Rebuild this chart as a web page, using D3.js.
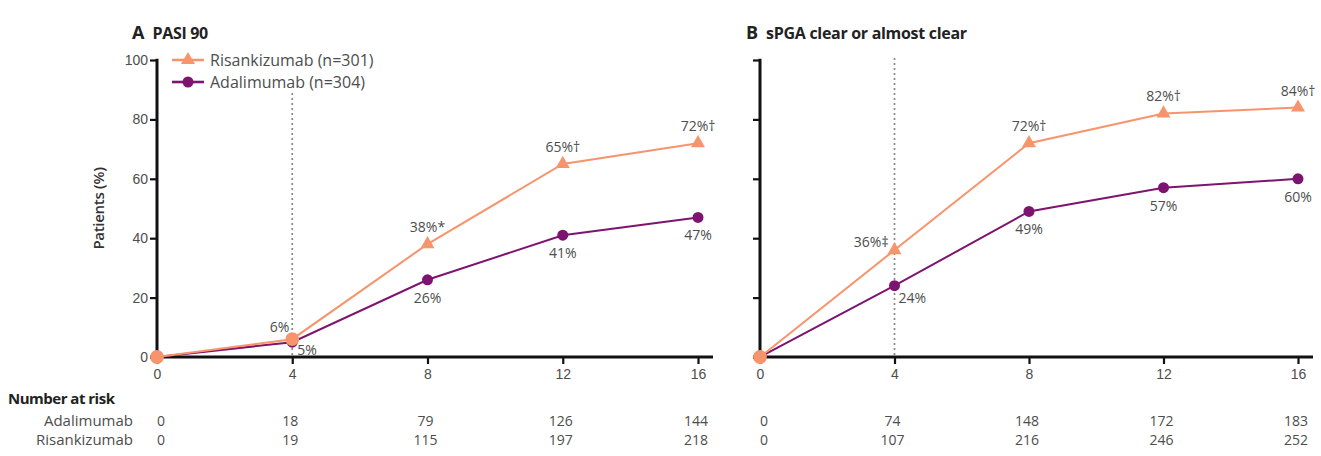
<!DOCTYPE html>
<html>
<head>
<meta charset="utf-8">
<script src="https://cdn.jsdelivr.net/npm/d3@7"></script>
<style>
  html, body { margin: 0; padding: 0; background: #fff; }
  svg { display: block; font-family: "Open Sans", "Noto Sans", sans-serif; }
</style>
</head>
<body>
<svg id="chart" width="1321" height="456"></svg>
<script>
// Study weeks shown on the x axis
const weeks = [0, 4, 8, 12, 16];
const yTicks = [0, 20, 40, 60, 80, 100];

// Panel A: PASI 90 response (%)
const pasiRisankizumab = [0, 6, 38, 65, 72];
const pasiAdalimumab   = [0, 5, 26, 41, 47];
const pasiRisSuffix    = ["", "", "*", "†", "†"];

// Panel B: sPGA clear or almost clear (%)
const spgaRisankizumab = [0, 36, 72, 82, 84];
const spgaAdalimumab   = [0, 24, 49, 57, 60];
const spgaRisSuffix    = ["", "‡", "†", "†", "†"];

// Number at risk
const riskAdaA = [0, 18, 79, 126, 144];
const riskRisA = [0, 19, 115, 197, 218];
const riskAdaB = [0, 74, 148, 172, 183];
const riskRisB = [0, 107, 216, 246, 252];

const seriesNames = ["Risankizumab (n=301)", "Adalimumab (n=304)"];

const ORANGE = "#f7946c";
const PURPLE = "#7d1470";
const TEXT = "#4d4d4d";

const svg = d3.select("#chart");

function panel(opts) {
  const x = d3.scaleLinear().domain([0, 16]).range(opts.xRange);
  const y = d3.scaleLinear().domain([0, 100]).range([357, 60]);
  const g = svg.append("g");

  // y axis
  const yAxis = d3.axisLeft(y).tickValues(yTicks).tickSize(7).tickPadding(2)
    .tickFormat(opts.yLabels ? d3.format("d") : "");
  const ya = g.append("g").attr("transform", `translate(${x(0)},0)`).call(yAxis);
  ya.select(".domain").remove();
  ya.selectAll(".tick line").attr("stroke", "#111").attr("stroke-width", 2.2);
  ya.selectAll(".tick text").attr("fill", TEXT).style("font-size", "14px");
  g.append("line")
    .attr("x1", x(0)).attr("x2", x(0)).attr("y1", y(100) - 1.2).attr("y2", y(0) + 1.2)
    .attr("stroke", "#111").attr("stroke-width", 3);

  // x axis
  const xAxis = d3.axisBottom(x).tickValues(weeks).tickSize(7).tickPadding(5);
  const xa = g.append("g").attr("transform", `translate(0,${y(0)})`).call(xAxis);
  xa.select(".domain").remove();
  xa.selectAll(".tick line").attr("stroke", "#111").attr("stroke-width", 2.2);
  xa.selectAll(".tick text").attr("fill", TEXT).style("font-size", "14px");
  g.append("line")
    .attr("x1", x(0) - 7).attr("x2", x(16) + 15).attr("y1", y(0)).attr("y2", y(0))
    .attr("stroke", "#111").attr("stroke-width", 3);

  // dotted reference at week 4
  g.append("line")
    .attr("x1", x(4)).attr("x2", x(4)).attr("y1", opts.refTop).attr("y2", y(0))
    .attr("stroke", "#888").attr("stroke-width", 1.7).attr("stroke-dasharray", "2,3");

  const line = d3.line().x((d, i) => x(weeks[i])).y(d => y(d));

  // Adalimumab
  g.append("path").datum(opts.ada).attr("d", line)
    .attr("fill", "none").attr("stroke", PURPLE).attr("stroke-width", 2);
  g.selectAll(".adaPt").data(opts.ada).join("circle")
    .attr("cx", (d, i) => x(weeks[i])).attr("cy", d => y(d)).attr("r", 5.5)
    .attr("fill", PURPLE);

  // Risankizumab
  g.append("path").datum(opts.ris).attr("d", line)
    .attr("fill", "none").attr("stroke", ORANGE).attr("stroke-width", 2);
  const tri = d3.symbol().type(d3.symbolTriangle).size(85);
  const dot = d3.symbol().type(d3.symbolCircle).size(150);
  g.selectAll(".risPt").data(opts.ris).join("path")
    .attr("d", (d, i) => (i <= opts.roundUpTo ? dot() : tri()))
    .attr("transform", (d, i) => `translate(${x(weeks[i])},${y(d)})`)
    .attr("fill", ORANGE);

  // value labels
  const lab = g.append("g").attr("fill", TEXT).style("font-size", "14px");
  opts.ris.forEach((v, i) => {
    if (i === 0) return;
    const p = opts.risPlace[i];
    lab.append("text")
      .attr("x", x(weeks[i]) + p[0]).attr("y", y(v) + p[1])
      .attr("text-anchor", p[2])
      .text(v + "%" + opts.risSuffix[i]);
  });
  opts.ada.forEach((v, i) => {
    if (i === 0) return;
    const p = opts.adaPlace[i];
    lab.append("text")
      .attr("x", x(weeks[i]) + p[0]).attr("y", y(v) + p[1])
      .attr("text-anchor", p[2])
      .text(v + "%");
  });

  // number at risk rows
  const rows = [[opts.riskAda, 426], [opts.riskRis, 445]];
  rows.forEach(([vals, yy]) => {
    g.selectAll(null).data(vals).join("text")
      .attr("x", (d, i) => x(weeks[i]) + (i === 0 ? 0 : -2))
      .attr("y", yy)
      .attr("text-anchor", (d, i) => (i === 0 ? "start" : "middle"))
      .attr("fill", TEXT).style("font-size", "14px")
      .text(d => d);
  });

  // panel title
  const t = g.append("text").attr("x", opts.titleX).attr("y", 39).attr("fill", "#222");
  t.append("tspan").style("font-size", "18px").style("font-weight", "700").text(opts.letter);
  t.append("tspan").attr("dx", 8).style("font-size", "16px").style("font-weight", "700")
    .style("letter-spacing", "-0.3px").text(opts.title);

  return { x, y, g };
}

const A = panel({
  xRange: [157, 698], yLabels: true, refTop: 93,
  ris: pasiRisankizumab, ada: pasiAdalimumab, risSuffix: pasiRisSuffix,
  riskAda: riskAdaA, riskRis: riskRisA,
  roundUpTo: 1,
  risPlace: [null, [-3, -7, "end"], [0, -12, "middle"], [0, -12, "middle"], [0, -12, "middle"]],
  adaPlace: [null, [5, 13, "start"], [0, 23, "middle"], [0, 23, "middle"], [0, 23, "middle"]],
  letter: "A", title: "PASI 90", titleX: 132
});

const B = panel({
  xRange: [760, 1298], yLabels: false, refTop: 58,
  ris: spgaRisankizumab, ada: spgaAdalimumab, risSuffix: spgaRisSuffix,
  riskAda: riskAdaB, riskRis: riskRisB,
  roundUpTo: 0,
  risPlace: [null, [-6, -3, "end"], [0, -12, "middle"], [0, -12, "middle"], [0, -12, "middle"]],
  adaPlace: [null, [4, 17, "start"], [0, 23, "middle"], [0, 23, "middle"], [0, 23, "middle"]],
  letter: "B", title: "sPGA clear or almost clear", titleX: 746
});

// y-axis title
svg.append("text")
  .attr("transform", `translate(104,${A.y(50)}) rotate(-90)`)
  .attr("text-anchor", "middle").attr("fill", "#333").style("font-size", "15px")
  .style("font-weight", "600").style("letter-spacing", "-0.3px")
  .text("Patients (%)");

// legend
const legend = svg.append("g").attr("transform", "translate(172,0)");
const legendRows = [
  { name: seriesNames[0], color: ORANGE, shape: d3.symbolTriangle, size: 85, yy: 60 },
  { name: seriesNames[1], color: PURPLE, shape: d3.symbolCircle, size: 95, yy: 82 }
];
legendRows.forEach(r => {
  legend.append("line").attr("x1", 0).attr("x2", 32).attr("y1", r.yy).attr("y2", r.yy)
    .attr("stroke", r.color).attr("stroke-width", 2.6);
  legend.append("path").attr("d", d3.symbol().type(r.shape).size(r.size)())
    .attr("transform", `translate(16,${r.yy})`).attr("fill", r.color);
  legend.append("text").attr("x", 38).attr("y", r.yy + 6).attr("fill", TEXT)
    .style("font-size", "16px").text(r.name);
});

// number at risk headings
svg.append("text").attr("x", 8).attr("y", 404).attr("fill", "#222")
  .style("font-size", "15px").style("font-weight", "700").style("letter-spacing", "-0.5px")
  .text("Number at risk");
svg.append("text").attr("x", 133).attr("y", 426).attr("text-anchor", "end").attr("fill", TEXT)
  .style("font-size", "15px").text("Adalimumab");
svg.append("text").attr("x", 133).attr("y", 445).attr("text-anchor", "end").attr("fill", TEXT)
  .style("font-size", "15px").text("Risankizumab");
</script>
</body>
</html>
